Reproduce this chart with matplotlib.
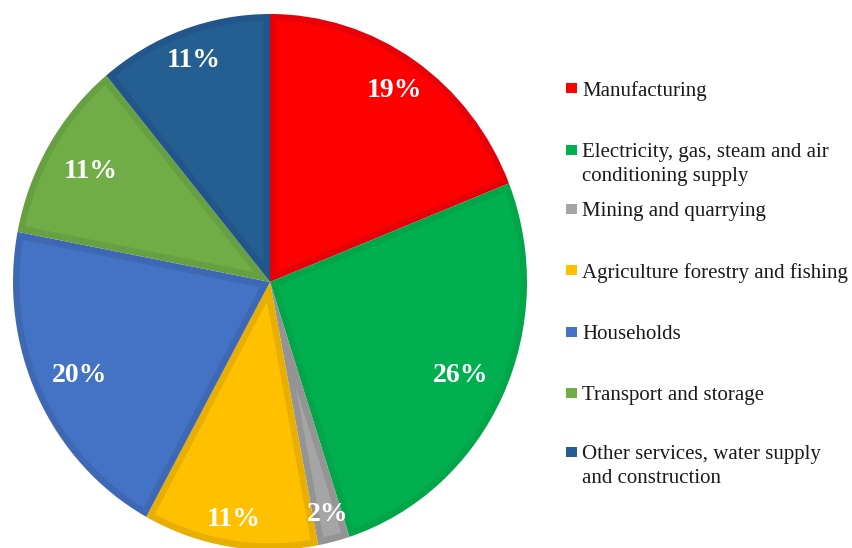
import matplotlib.pyplot as plt
from matplotlib.patches import Rectangle
import numpy as np

sectors = [
    "Manufacturing",
    "Electricity, gas, steam and air\nconditioning supply",
    "Mining and quarrying",
    "Agriculture forestry and fishing",
    "Households",
    "Transport and storage",
    "Other services, water supply\nand construction",
]
shares = [19, 26, 2, 11, 20, 11, 11]

fill_colors = ["#FF0000", "#00B050", "#A5A5A5", "#FFC000", "#4472C4", "#70AD47", "#255E91"]
edge_colors = ["#E80009", "#00A648", "#949494", "#E8AF00", "#3F68B4", "#66A041", "#22568A"]

# radial position of each percentage label (fraction of the radius)
label_dist = [0.865, 0.821, 0.895, 0.898, 0.821, 0.811, 0.878]


def inset_wedge(theta1, theta2, d, r=1.0):
    """Outline of a wedge shrunk inwards by d on every side."""
    a1, a2 = np.deg2rad(theta1), np.deg2rad(theta2)
    half = (a2 - a1) / 2
    apex_r = d / np.sin(half)
    mid = a1 + half
    rr = r - d
    shift = np.arcsin(d / rr)
    arc = np.linspace(a1 + shift, a2 - shift, 80)
    xs = np.concatenate([[apex_r * np.cos(mid)], rr * np.cos(arc)])
    ys = np.concatenate([[apex_r * np.sin(mid)], rr * np.sin(arc)])
    return xs, ys


W, H = 853, 548
fig = plt.figure(figsize=(W / 100, H / 100), dpi=100)

# pie is drawn slightly taller than wide, so the axes box sets the shape
ax = fig.add_axes([13 / W, (H - 550) / H, 514 / W, 536 / H])
wedges, _ = ax.pie(
    shares,
    colors=edge_colors,
    startangle=90,
    counterclock=False,
    radius=1,
    wedgeprops=dict(linewidth=0),
)
ax.set_aspect("auto")
ax.set_xlim(-1, 1)
ax.set_ylim(-1, 1)

# lighter body of each wedge, leaving a darker band along its border
for w, fc in zip(wedges, fill_colors):
    xs, ys = inset_wedge(w.theta1, w.theta2, 0.025)
    ax.fill(xs, ys, color=fc, linewidth=0, zorder=w.get_zorder() + 0.1)

for w, val, d in zip(wedges, shares, label_dist):
    mid = np.deg2rad((w.theta1 + w.theta2) / 2)
    ax.text(d * np.cos(mid), d * np.sin(mid), f"{val}%",
            ha="center", va="center", color="white", zorder=5,
            fontsize=20, fontweight="bold", family="Liberation Serif")

# legend on the right, one entry per sector
marker_y = [88, 150, 209, 270, 332, 393, 452]
for name, color, y in zip(sectors, fill_colors, marker_y):
    fig.patches.append(Rectangle((566 / W, (H - y - 5) / H), 11 / W, 10 / H,
                                 transform=fig.transFigure, facecolor=color,
                                 edgecolor="none"))
    fig.text(582 / W, (H - y + 7) / H, name, ha="left", va="top",
             fontsize=15, family="Liberation Serif", color="#1a1a1a",
             linespacing=1.38)

fig.savefig("out.png", dpi=100)
